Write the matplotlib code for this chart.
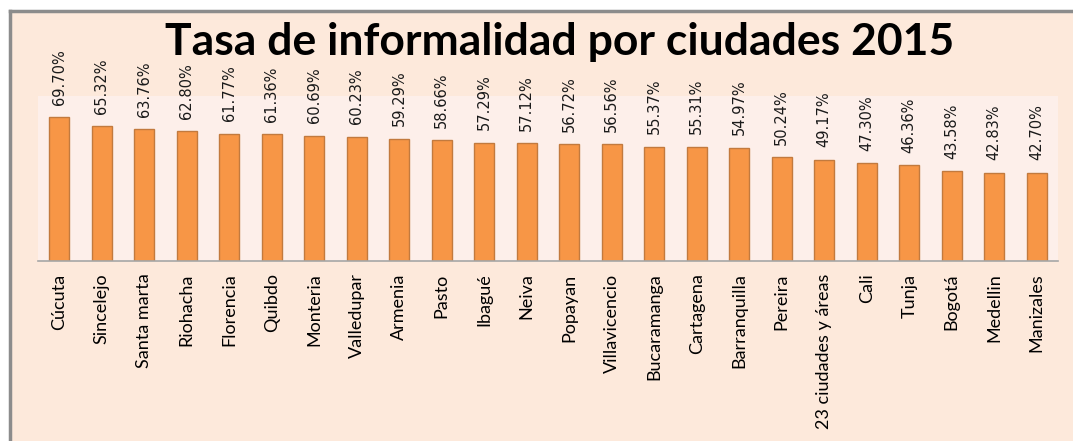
import matplotlib
matplotlib.use("Agg")
import matplotlib.pyplot as plt
from matplotlib.patches import Rectangle
from matplotlib.lines import Line2D

ciudades = ["Cúcuta", "Sincelejo", "Santa marta", "Riohacha", "Florencia", "Quibdo",
            "Monteria", "Valledupar", "Armenia", "Pasto", "Ibagué", "Neiva", "Popayan",
            "Villavicencio", "Bucaramanga", "Cartagena", "Barranquilla", "Pereira",
            "23 ciudades y áreas", "Cali", "Tunja", "Bogotá", "Medellin", "Manizales"]
tasas = [69.70, 65.32, 63.76, 62.80, 61.77, 61.36, 60.69, 60.23, 59.29, 58.66, 57.29,
         57.12, 56.72, 56.56, 55.37, 55.31, 54.97, 50.24, 49.17, 47.30, 46.36, 43.58,
         42.83, 42.70]
titulo = "Tasa de informalidad por ciudades 2015"

W, H = 1073, 441
fig = plt.figure(figsize=(W / 100, H / 100), dpi=100)
fig.patch.set_facecolor("white")

# Chart area background with gray border on top and left
x0, ytop = 9.5 / W, 1 - 11 / H
fig.patches.append(Rectangle((x0, 0), 1 - x0, ytop, transform=fig.transFigure,
                             facecolor="#FDE9DB", edgecolor="none", zorder=-2))
fig.lines.append(Line2D([x0, 1], [ytop, ytop], transform=fig.transFigure,
                        color="#8C8C8C", lw=2.5, zorder=-1))
fig.lines.append(Line2D([x0, x0], [0, ytop], transform=fig.transFigure,
                        color="#8C8C8C", lw=2.5, zorder=-1))

ax = fig.add_axes([38 / W, 1 - 261 / H, (1058 - 38) / W, (261 - 96) / H])
ax.set_zorder(1)
ax.set_facecolor("#FDEFEA")
n = len(ciudades)
xs = list(range(n))
ax.bar(xs, tasas, width=0.46, color="#F79646", edgecolor="#C27A3E", linewidth=1.0,
       zorder=2)
ax.set_xlim(-0.5, n - 0.5)
ax.set_ylim(0, 80)
ax.set_yticks([])
for s in ["top", "right", "left"]:
    ax.spines[s].set_visible(False)
ax.spines["bottom"].set_color("#A6A6A6")
ax.spines["bottom"].set_linewidth(1.2)
ax.set_xticks(xs)
ax.set_xticklabels(ciudades, rotation=90, va="top", ha="center",
                   fontsize=13, family=["Lato", "DejaVu Sans"], color="black")
ax.tick_params(axis="x", length=0, pad=9)

for x, v in zip(xs, tasas):
    ax.annotate(f"{v:.2f}%", (x, v), xytext=(0, 9), textcoords="offset points",
                rotation=90, ha="center", va="bottom", fontsize=10.5,
                family=["Liberation Sans Narrow", "DejaVu Sans"], color="#1a1a1a",
                annotation_clip=False)

fig.text(560 / W, 1 - 42 / H, titulo, ha="center", va="center", fontsize=32,
         fontweight="bold", family=["Lato", "DejaVu Sans"], color="black")

fig.savefig("out.png", dpi=100, facecolor=fig.get_facecolor())
